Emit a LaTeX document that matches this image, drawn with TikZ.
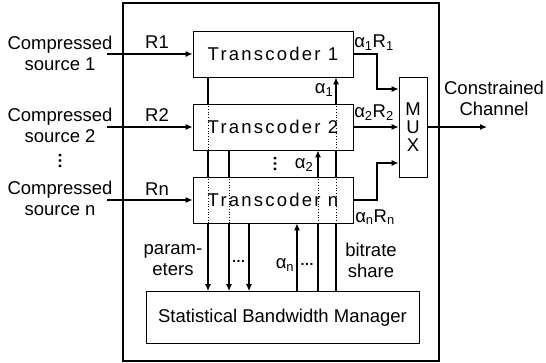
\documentclass[tikz,border=0pt]{standalone}
\usepackage{fontspec}
\setmainfont{Liberation Sans}
\newfontfamily\codefont[LetterSpace=12]{Liberation Sans}
\usetikzlibrary{arrows.meta}

\begin{document}
\begin{tikzpicture}[x=1pt,y=-1pt,
  every node/.style={font=\fontsize{18.5}{21}\selectfont, inner sep=0pt},
  box/.style={draw, line width=0.8pt, fill=white},
  link/.style={line width=1.2pt},
  arr/.style={link, -{Latex[length=7pt,width=6pt]}},
  dots/.style={line width=0.7pt, dotted},
  lbl/.style={align=center},
  hdots/.style={font=\fontsize{14}{14}\selectfont\bfseries},
  vdotsmark/.style={font=\fontsize{17}{17}\selectfont\bfseries, rotate=90}]
\useasboundingbox (0,0) rectangle (546,363);

% enclosing system
\node[draw, line width=1.4pt, minimum width=316, minimum height=358] (sys) at (281,182) {};

% transcoders, multiplexer and manager
\node[box, minimum width=160, minimum height=46] (t1) at (273,54) {\codefont Transcoder 1};
\node[box, minimum width=160, minimum height=46] (t2) at (273,127) {\codefont Transcoder 2};
\node[box, minimum width=160, minimum height=46] (tn) at (273,200) {\codefont Transcoder n};
\node[box, minimum width=28, minimum height=100, align=center,
      font=\fontsize{18.5}{18}\selectfont] (mux) at (413,127) {M\\U\\X};
\node[box, minimum width=273, minimum height=52] (sbm) at (282.5,317.5) {Statistical Bandwidth Manager};

% sources
\node[lbl] (s1) at (60,53) {Compressed\\source 1};
\node[lbl] (s2) at (60,125) {Compressed\\source 2};
\node[vdotsmark] (sd) at (60,161.5) {…};
\node[lbl] (sn) at (60,198) {Compressed\\source n};

\coordinate (i1) at (107,54);
\coordinate (i2) at (107,127);
\coordinate (in) at (107,200);
\draw[arr] (i1) -- (t1.west);
\draw[arr] (i2) -- (t2.west);
\draw[arr] (in) -- (tn.west);
\node (r1) at (157,42) {R1};
\node (r2) at (157,115) {R2};
\node (rn) at (157,189) {Rn};

% transcoder outputs into the multiplexer
\coordinate (j1) at (377,89);
\coordinate (jn) at (377,163);
\draw[arr] (t1.east) -| (j1) -- (mux.west |- j1);
\draw[arr] (t2.east) -- (mux.west |- t2.east);
\draw[arr] (tn.east) -| (jn) -- (mux.west |- jn);
\node (o1) at (374,43) {α\textsubscript{1}R\textsubscript{1}};
\node (o2) at (374,113) {α\textsubscript{2}R\textsubscript{2}};
\node (on) at (375,217) {α\textsubscript{n}R\textsubscript{n}};

% constrained channel
\coordinate (out) at (487,127);
\draw[arr] (mux.east) -- (out);
\node[lbl] (ch) at (494,98) {Constrained\\Channel};

% parameter lines down to the manager
\coordinate (c1) at (208,0);
\coordinate (c2) at (229,0);
\coordinate (c3) at (249,0);
\draw[link] (t1.south -| c1) -- (t2.north -| c1);
\draw[dots] (t2.north -| c1) -- (t2.south -| c1);
\draw[link] (t2.south -| c1) -- (tn.north -| c1);
\draw[dots] (tn.north -| c1) -- (tn.south -| c1);
\draw[arr] (tn.south -| c1) -- (sbm.north -| c1);
\draw[link] (t2.south -| c2) -- (tn.north -| c2);
\draw[dots] (tn.north -| c2) -- (tn.south -| c2);
\draw[arr] (tn.south -| c2) -- (sbm.north -| c2);
\draw[arr] (tn.south -| c3) -- (sbm.north -| c3);

% bitrate shares up to the transcoders
\coordinate (an) at (297,0);
\coordinate (a2) at (318,0);
\coordinate (a1) at (336,0);
\draw[arr] (sbm.north -| an) -- (tn.south -| an);
\draw[link] (sbm.north -| a2) -- (tn.south -| a2);
\draw[dots] (tn.south -| a2) -- (tn.north -| a2);
\draw[arr] (tn.north -| a2) -- (t2.south -| a2);
\draw[link] (sbm.north -| a1) -- (tn.south -| a1);
\draw[dots] (tn.south -| a1) -- (tn.north -| a1);
\draw[link] (tn.north -| a1) -- (t2.south -| a1);
\draw[dots] (t2.south -| a1) -- (t2.north -| a1);
\draw[arr] (t2.north -| a1) -- (t1.south -| a1);

% labels on the control lines
\node (l1) at (324,90) {α\textsubscript{1}};
\node (l2) at (304,165) {α\textsubscript{2}};
\node (ln) at (285,265) {α\textsubscript{n}};
\node[vdotsmark] (vd) at (275,164) {…};
\node[hdots] (e1) at (238.5,261) {…};
\node[hdots] (e2) at (307,264) {…};
\node[lbl] (pa) at (173,260) {param-\\eters};
\node[lbl] (bs) at (371,260) {bitrate\\share};
\end{tikzpicture}
\end{document}
